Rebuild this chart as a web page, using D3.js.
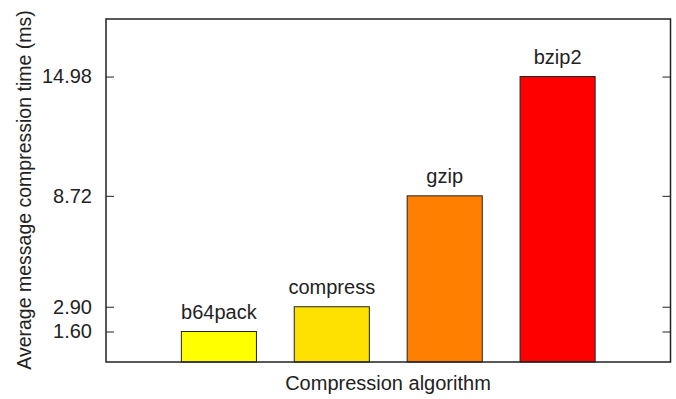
<!DOCTYPE html>
<html lang="en">
<head>
    <meta charset="UTF-8">
    <title>Compression time</title>
    <style>
        body { margin: 0; background: #fff; }
        text { font-family: "Liberation Sans", Arial, sans-serif; fill: #222; }
    </style>
</head>
<body>
    <svg width="676" height="399" id="svg"></svg>
    <script src="https://d3js.org/d3.v7.min.js"></script>
    <script>
        const algorithms = ["b64pack", "compress", "gzip", "bzip2"]
        const times = [1.60, 2.90, 8.72, 14.98]
        const colors = ["#ffff00", "#ffe100", "#ff7f00", "#ff0000"]
        const yTicks = [1.60, 2.90, 8.72, 14.98]

        const padding = { top: 19, bottom: 37, left: 106, right: 5.5 }
        const svg = d3.select("svg#svg")
        const width = +svg.attr("width")
        const height = +svg.attr("height")
        const innerWidth = width - padding.left - padding.right
        const innerHeight = height - padding.top - padding.bottom

        // gnuplot style: bars sit at 1..4 on a 0..5 axis
        const xScale = d3.scaleLinear().domain([0, algorithms.length + 1]).range([0, innerWidth])
        const yScale = d3.scaleLinear().domain([0, 18]).range([innerHeight, 0])
        const barW = xScale(0.665) - xScale(0)

        const g = svg.append("g").attr("transform", `translate(${padding.left}, ${padding.top})`)

        // bars
        g.selectAll("rect.bar").data(algorithms).enter().append("rect")
            .attr("class", "bar")
            .attr("x", (d, i) => xScale(i + 1) - barW / 2)
            .attr("y", (d, i) => yScale(times[i]))
            .attr("width", barW)
            .attr("height", (d, i) => yScale(0) - yScale(times[i]))
            .attr("fill", (d, i) => colors[i])
            .attr("stroke", "#222")
            .attr("stroke-width", 1)

        // labels over bars
        g.selectAll("text.lbl").data(algorithms).enter().append("text")
            .attr("class", "lbl")
            .attr("x", (d, i) => xScale(i + 1))
            .attr("y", (d, i) => yScale(times[i]) - 13)
            .attr("text-anchor", "middle")
            .style("font-size", "20px")
            .text(d => d)

        // y axis left + mirrored ticks on right
        const yAxis = d3.axisLeft(yScale).tickValues(yTicks).tickFormat(d3.format(".2f"))
            .tickSizeInner(-8).tickSizeOuter(0).tickPadding(14)
        const ya = g.append("g").call(yAxis)
        ya.select(".domain").remove()
        ya.selectAll("line").attr("stroke", "#222")
        ya.selectAll("text").style("font-size", "20px").style("font-family", "Liberation Sans, Arial, sans-serif").attr("fill", "#222")

        const yr = g.append("g").attr("transform", `translate(${innerWidth}, 0)`)
            .call(d3.axisRight(yScale).tickValues(yTicks).tickSizeInner(-8).tickSizeOuter(0).tickFormat(""))
        yr.select(".domain").remove()
        yr.selectAll("line").attr("stroke", "#222")

        // frame
        g.append("rect")
            .attr("width", innerWidth).attr("height", innerHeight)
            .attr("fill", "none").attr("stroke", "#222").attr("stroke-width", 1.5)

        // axis titles
        svg.append("text")
            .attr("x", 388)
            .attr("y", 390)
            .attr("text-anchor", "middle")
            .style("font-size", "20px")
            .text("Compression algorithm")

        svg.append("text")
            .attr("transform", `translate(31, 190) rotate(-90)`)
            .attr("text-anchor", "middle")
            .style("font-size", "19.5px")
            .text("Average message compression time (ms)")
    </script>
</body>
</html>
